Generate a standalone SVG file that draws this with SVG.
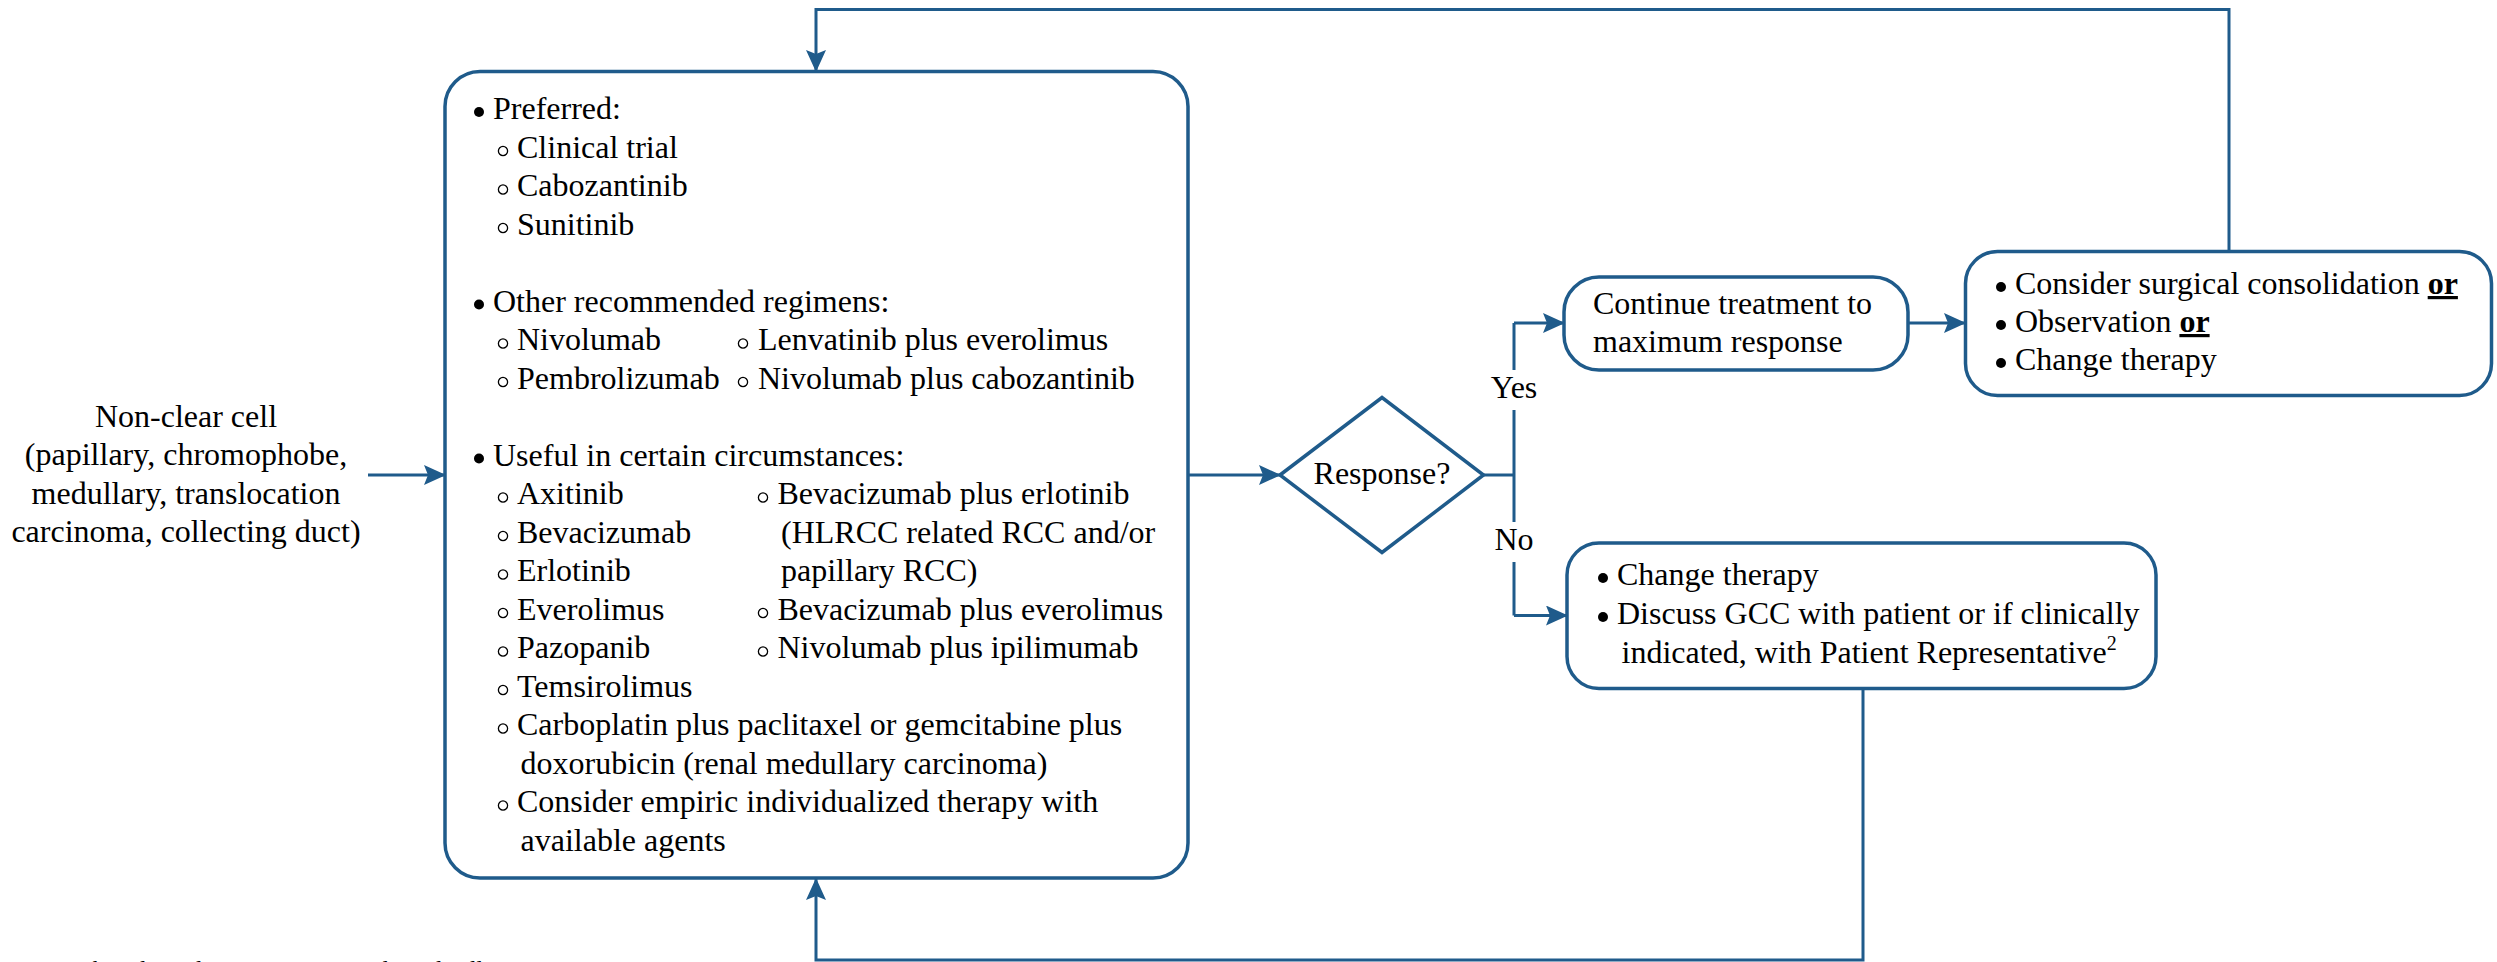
<svg xmlns="http://www.w3.org/2000/svg" width="2497" height="962" viewBox="0 0 2497 962" font-family="'Liberation Serif', 'Times New Roman', 'DejaVu Serif', serif" font-size="32">
  <style>
    text { font-family: 'Liberation Serif', 'Times New Roman', 'DejaVu Serif', serif; font-size: 32px; fill: #000; }
    .box { fill: #fff; stroke: #1f5b8b; stroke-width: 3.5; }
    .wire { fill: none; stroke: #1f5b8b; stroke-width: 3; }
    .dot { fill: #000; }
    .ring { fill: none; stroke: #000; stroke-width: 1.3; }
    .mid { text-anchor: middle; }
    .em { font-weight: bold; text-decoration: underline; }
    .note { font-size: 24px; }
  </style>
  <defs>
    <marker id="arrow" viewBox="0 0 22 20" markerWidth="22" markerHeight="20" refX="21" refY="10" orient="auto" markerUnits="userSpaceOnUse">
      <path d="M0,0 L22,10 L0,20 L4,10 Z" fill="#1f5b8b"/>
    </marker>
    <circle id="b1" r="5" class="dot"/>
    <circle id="b2" r="4.6" class="ring"/>
  </defs>

  <!-- connectors -->
  <g id="connectors">
    <path class="wire" d="M368,475 H445" marker-end="url(#arrow)"/>
    <path class="wire" d="M2229,251 V9.5 H816 V71" marker-end="url(#arrow)"/>
    <path class="wire" d="M1188,475 H1280" marker-end="url(#arrow)"/>
    <path class="wire" d="M1483,475 H1514"/>
    <path class="wire" d="M1514,323 V370 M1514,410 V522 M1514,562 V615.5"/>
    <path class="wire" d="M1514,323 H1564" marker-end="url(#arrow)"/>
    <path class="wire" d="M1514,615.5 H1567" marker-end="url(#arrow)"/>
    <path class="wire" d="M1908,323 H1965" marker-end="url(#arrow)"/>
    <path class="wire" d="M1863,688 V960 H816 V879" marker-end="url(#arrow)"/>
    <text class="mid" x="1514" y="398">Yes</text>
    <text class="mid" x="1514" y="550">No</text>
  </g>

  <!-- entry label -->
  <g id="entry">
    <text class="mid" x="186" y="427">Non-clear cell</text>
    <text class="mid" x="186" y="465">(papillary, chromophobe,</text>
    <text class="mid" x="186" y="503.5">medullary, translocation</text>
    <text class="mid" x="186" y="542">carcinoma, collecting duct)</text>
  </g>

  <!-- regimen list -->
  <g id="regimens">
    <rect class="box" x="445" y="71.5" width="743" height="806.5" rx="35"/>
    <use href="#b1" x="479" y="112"/>
    <text x="493" y="119">Preferred:</text>
    <use href="#b2" x="503" y="151"/>
    <text x="517" y="157.5">Clinical trial</text>
    <use href="#b2" x="503" y="189.5"/>
    <text x="517" y="196">Cabozantinib</text>
    <use href="#b2" x="503" y="228"/>
    <text x="517" y="234.5">Sunitinib</text>

    <use href="#b1" x="479" y="304.5"/>
    <text x="493" y="311.5">Other recommended regimens:</text>
    <use href="#b2" x="503" y="343.5"/>
    <text x="517" y="350">Nivolumab</text>
    <use href="#b2" x="743" y="343.5"/>
    <text x="758" y="350">Lenvatinib plus everolimus</text>
    <use href="#b2" x="503" y="382"/>
    <text x="517" y="388.5">Pembrolizumab</text>
    <use href="#b2" x="743" y="382"/>
    <text x="758" y="388.5">Nivolumab plus cabozantinib</text>

    <use href="#b1" x="479" y="458.5"/>
    <text x="493" y="465.5">Useful in certain circumstances:</text>
    <use href="#b2" x="503" y="497.5"/>
    <text x="517" y="504">Axitinib</text>
    <use href="#b2" x="763" y="497.5"/>
    <text x="777.5" y="504">Bevacizumab plus erlotinib</text>
    <use href="#b2" x="503" y="536"/>
    <text x="517" y="542.5">Bevacizumab</text>
    <text x="781" y="542.5">(HLRCC related RCC and/or</text>
    <use href="#b2" x="503" y="574.5"/>
    <text x="517" y="581">Erlotinib</text>
    <text x="781" y="581">papillary RCC)</text>
    <use href="#b2" x="503" y="613"/>
    <text x="517" y="619.5">Everolimus</text>
    <use href="#b2" x="763" y="613"/>
    <text x="777.5" y="619.5">Bevacizumab plus everolimus</text>
    <use href="#b2" x="503" y="651.5"/>
    <text x="517" y="658">Pazopanib</text>
    <use href="#b2" x="763" y="651.5"/>
    <text x="777.5" y="658">Nivolumab plus ipilimumab</text>
    <use href="#b2" x="503" y="690"/>
    <text x="517" y="696.5">Temsirolimus</text>
    <use href="#b2" x="503" y="728.5"/>
    <text x="517" y="735">Carboplatin plus paclitaxel or gemcitabine plus</text>
    <text x="520.5" y="773.5">doxorubicin (renal medullary carcinoma)</text>
    <use href="#b2" x="503" y="805.5"/>
    <text x="517" y="812">Consider empiric individualized therapy with</text>
    <text x="520.5" y="850.5">available agents</text>
  </g>

  <!-- decision -->
  <g id="response">
    <polygon class="box" points="1280,475 1382,397.5 1483.5,475 1382,552.5"/>
    <text class="mid" x="1382" y="483.5">Response?</text>
  </g>

  <!-- yes branch -->
  <g id="continue">
    <rect class="box" x="1564" y="277" width="344" height="93" rx="35"/>
    <text x="1593" y="313.5">Continue treatment to</text>
    <text x="1593" y="351.5">maximum response</text>
  </g>

  <g id="options">
    <rect class="box" x="1965.5" y="251.5" width="526" height="144" rx="32"/>
    <use href="#b1" x="2001" y="287"/>
    <text x="2015" y="294">Consider surgical consolidation <tspan class="em">or</tspan></text>
    <use href="#b1" x="2001" y="325"/>
    <text x="2015" y="332">Observation <tspan class="em">or</tspan></text>
    <use href="#b1" x="2001" y="363"/>
    <text x="2015" y="370">Change therapy</text>
  </g>

  <!-- no branch -->
  <g id="change">
    <rect class="box" x="1567" y="543" width="589" height="145.5" rx="32"/>
    <use href="#b1" x="1603" y="578"/>
    <text x="1617" y="585">Change therapy</text>
    <use href="#b1" x="1603" y="617"/>
    <text x="1617" y="624">Discuss GCC with patient or if clinically</text>
    <text x="1621.5" y="662.5">indicated, with Patient Representative<tspan font-size="20" dy="-13">2</tspan></text>
  </g>

  <!-- footnote, running off the lower edge -->
  <text class="note" x="0" y="977">HLRCC: hereditary leiomyomatosis and renal cell cancer</text>
</svg>
